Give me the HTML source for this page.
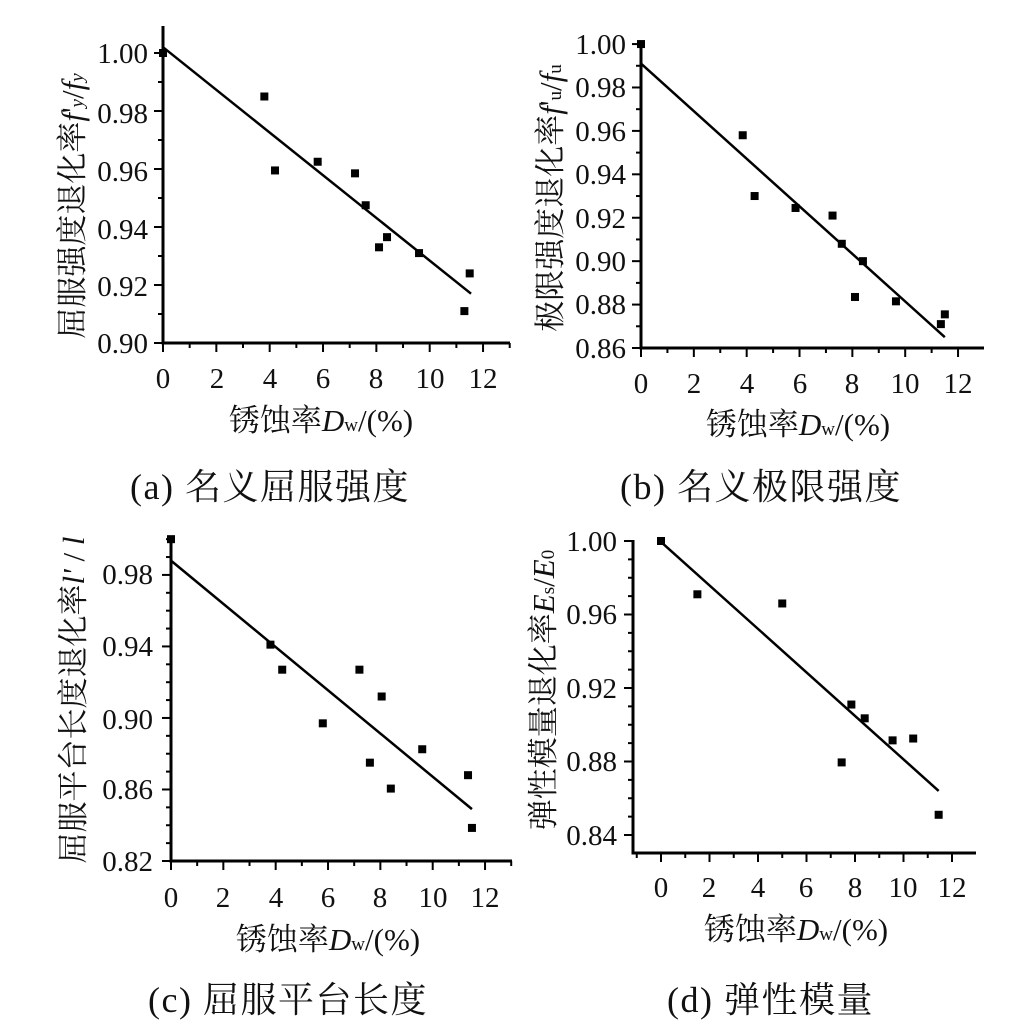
<!DOCTYPE html>
<html><head><meta charset="utf-8"><style>
html,body{margin:0;padding:0;background:#fff}
svg{display:block}
text{font-family:"Liberation Serif","Noto Serif CJK SC","Noto Sans CJK SC",serif;fill:#111}
.t{font-size:29px}
.a{font-size:31px}
.c{font-size:36px;letter-spacing:1.5px}
</style></head><body>
<svg id="s" width="1036" height="1029" viewBox="0 0 1036 1029" xmlns="http://www.w3.org/2000/svg">
<g id="g"></g>
<g class="t" text-anchor="end">
<text x="148" y="63">1.00</text><text x="148" y="123">0.98</text><text x="148" y="181">0.96</text>
<text x="148" y="239">0.94</text><text x="148" y="296">0.92</text><text x="148" y="353">0.90</text>
</g>
<g class="t" text-anchor="middle">
<text x="163" y="388">0</text><text x="217" y="388">2</text><text x="270" y="388">4</text><text x="323" y="388">6</text>
<text x="376" y="388">8</text><text x="430" y="388">10</text><text x="483" y="388">12</text>
</g>
<g class="a" text-anchor="middle">
<text x="321" y="431">锈蚀率<tspan font-style="italic">D</tspan><tspan font-size="19">w</tspan>/(%)</text>
<text transform="translate(83,206) rotate(-90)">屈服强度退化率<tspan font-style="italic">f</tspan>'<tspan font-size="19" font-style="italic">y</tspan>/<tspan font-style="italic">f</tspan><tspan font-size="19" font-style="italic">y</tspan></text>
</g>
<text class="c" x="130" y="499">(a)  名义屈服强度</text>
<g class="t" text-anchor="end">
<text x="626" y="54">1.00</text><text x="626" y="97">0.98</text><text x="626" y="141">0.96</text>
<text x="626" y="184">0.94</text><text x="626" y="228">0.92</text><text x="626" y="271">0.90</text>
<text x="626" y="314">0.88</text><text x="626" y="358">0.86</text>
</g>
<g class="t" text-anchor="middle">
<text x="641" y="393">0</text><text x="694" y="393">2</text><text x="747" y="393">4</text><text x="800" y="393">6</text>
<text x="852" y="393">8</text><text x="905" y="393">10</text><text x="958" y="393">12</text>
</g>
<g class="a" text-anchor="middle">
<text x="798" y="435">锈蚀率<tspan font-style="italic">D</tspan><tspan font-size="19">w</tspan>/(%)</text>
<text transform="translate(561,198) rotate(-90)">极限强度退化率<tspan font-style="italic">f</tspan>'<tspan font-size="19">u</tspan>/<tspan font-style="italic">f</tspan><tspan font-size="19">u</tspan></text>
</g>
<text class="c" x="620" y="499">(b)  名义极限强度</text>
<g class="t" text-anchor="end">
<text x="153" y="584">0.98</text><text x="153" y="656">0.94</text><text x="153" y="729">0.90</text>
<text x="153" y="799">0.86</text><text x="153" y="871">0.82</text>
</g>
<g class="t" text-anchor="middle">
<text x="171" y="907">0</text><text x="223" y="907">2</text><text x="276" y="907">4</text><text x="328" y="907">6</text>
<text x="380" y="907">8</text><text x="433" y="907">10</text><text x="485" y="907">12</text>
</g>
<g class="a" text-anchor="middle">
<text x="328" y="950">锈蚀率<tspan font-style="italic">D</tspan><tspan font-size="19">w</tspan>/(%)</text>
<text transform="translate(84,700) rotate(-90)">屈服平台长度退化率<tspan font-style="italic">l'</tspan> / <tspan font-style="italic">l</tspan></text>
</g>
<text class="c" x="148" y="1012">(c)  屈服平台长度</text>
<g class="t" text-anchor="end">
<text x="617" y="551">1.00</text><text x="617" y="624">0.96</text><text x="617" y="698">0.92</text>
<text x="617" y="771">0.88</text><text x="617" y="845">0.84</text>
</g>
<g class="t" text-anchor="middle">
<text x="661" y="897">0</text><text x="709" y="897">2</text><text x="758" y="897">4</text><text x="806" y="897">6</text>
<text x="855" y="897">8</text><text x="903" y="897">10</text><text x="952" y="897">12</text>
</g>
<g class="a" text-anchor="middle">
<text x="796" y="940">锈蚀率<tspan font-style="italic">D</tspan><tspan font-size="19">w</tspan>/(%)</text>
<text transform="translate(554,690) rotate(-90)">弹性模量退化率<tspan font-style="italic">E</tspan><tspan font-size="19">s</tspan>/<tspan font-style="italic">E</tspan><tspan font-size="19">0</tspan></text>
</g>
<text class="c" x="667" y="1012">(d)  弹性模量</text>
</svg>
<script>
var NS="http://www.w3.org/2000/svg",G=document.getElementById("g");
function el(n,a){var e=document.createElementNS(NS,n);for(var k in a)e.setAttribute(k,a[k]);G.appendChild(e);}
function L(x1,y1,x2,y2,w){el("line",{x1:x1,y1:y1,x2:x2,y2:y2,stroke:"#000","stroke-width":w||2.5});}
function panel(p){
 var X=function(x){return p.x0+p.sx*x},Y=function(y){return p.yb-(y-p.ymin)*p.sy};
 L(p.ax,p.top,p.ax,p.ay+1.5,3);L(p.ax-1.5,p.ay,p.axEnd,p.ay,3);
 for(var v=p.ymin;v<=p.ymax+1e-9;v+=p.ystep){var yy=Y(v);var maj=Math.abs(Math.round((v-p.ymin)/p.ystep)%p.ymaj)==0;L(p.ax-(maj?9:5),yy,p.ax,yy,2);}
 for(var u=p.xs;u<=13;u+=1){var xx=X(u);if(xx>p.axEnd)break;var maj=(Math.round(u)%2==0);L(xx,p.ay,xx,p.ay+(maj?9:5),2);}
 p.pts.forEach(function(q){el("rect",{x:X(q[0])-4,y:Y(q[1])-4,width:8,height:8,fill:"#000"});});
 L(X(p.ln[0]),Y(p.ln[1]),X(p.ln[2]),Y(p.ln[3]),2.5);
}
panel({x0:163,sx:26.67,yb:343,ymin:0.90,ymax:1.006,sy:2900,ystep:0.01,ymaj:2,ax:163,ay:343,top:26,axEnd:510,xs:0,
 pts:[[0,1.0],[3.8,0.985],[4.2,0.9595],[5.8,0.9625],[7.2,0.9585],[7.6,0.9475],[8.1,0.933],[8.4,0.9365],[9.6,0.931],[11.3,0.911],[11.5,0.924]],
 ln:[0,1.002,11.55,0.917]});
panel({x0:641,sx:26.42,yb:348,ymin:0.86,ymax:1.0,sy:2171,ystep:0.01,ymaj:2,ax:641,ay:348,top:42,axEnd:984,xs:0,
 pts:[[0,1.0],[3.85,0.958],[4.3,0.93],[5.85,0.9245],[7.25,0.921],[7.6,0.908],[8.1,0.8835],[8.4,0.90],[9.65,0.8815],[11.35,0.871],[11.5,0.8755]],
 ln:[0,0.991,11.5,0.865]});
panel({x0:171,sx:26.17,yb:861,ymin:0.82,ymax:1.0,sy:1788,ystep:0.01,ymaj:4,ax:171,ay:861,top:537,axEnd:512,xs:0,
 pts:[[0,1.0],[3.8,0.941],[4.25,0.927],[5.8,0.897],[7.2,0.927],[7.6,0.875],[8.05,0.912],[8.4,0.8605],[9.6,0.8825],[11.35,0.868],[11.5,0.8385]],
 ln:[0,0.988,11.5,0.849]});
panel({x0:661,sx:24.25,yb:835,ymin:0.84,ymax:1.0,sy:1837.5,ystep:0.01,ymaj:4,ax:633,ay:853,top:540,axEnd:976,xs:-1,
 pts:[[0,1.0],[1.5,0.971],[5.0,0.966],[7.45,0.8795],[7.85,0.911],[8.4,0.9035],[9.55,0.8915],[10.4,0.8925],[11.45,0.851]],
 ln:[0,0.9995,11.45,0.864]});
</script>
</body></html>
